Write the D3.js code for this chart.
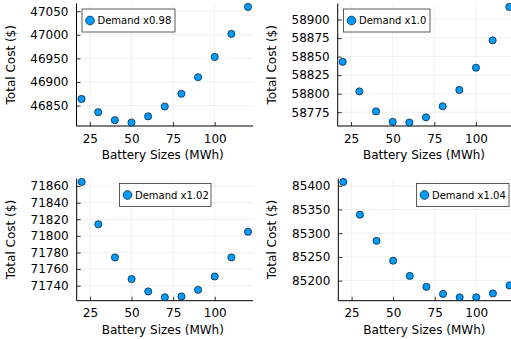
<!DOCTYPE html>
<html>
<head>
<meta charset="utf-8">
<script src="https://cdn.jsdelivr.net/npm/d3@7"></script>
<style>
  body { margin: 0; background: #fff; }
  svg { display: block; font-family: "DejaVu Sans", sans-serif; }
</style>
</head>
<body>
<script>
const batterySizes = [20, 30, 40, 50, 60, 70, 80, 90, 100, 110, 120];

const cost098 = [46864, 46836, 46819, 46814, 46827, 46848, 46875, 46910, 46953, 47002, 47059];
const cost100 = [58843, 58803, 58776, 58762, 58761, 58768, 58783, 58805, 58835, 58872, 58917];
const cost102 = [71865, 71814, 71774, 71748, 71733, 71726, 71727, 71735, 71751, 71774, 71805];
const cost104 = [85408, 85339, 85284, 85242, 85210, 85187, 85172, 85165, 85165, 85173, 85190];

const xTicks = [25, 50, 75, 100];
const yTicks098 = [46850, 46900, 46950, 47000, 47050];
const yTicks100 = [58775, 58800, 58825, 58850, 58875, 58900];
const yTicks102 = [71740, 71760, 71780, 71800, 71820, 71840, 71860];
const yTicks104 = [85200, 85250, 85300, 85350, 85400];

const labels = ["Demand x0.98", "Demand x1.0", "Demand x1.02", "Demand x1.04"];

const W = 511, H = 339;
const svg = d3.select("body").append("svg").attr("width", W).attr("height", H);

// plot areas + legend boxes
const panels = [
  { ys: cost098, ticks: yTicks098, label: labels[0], box: [76.5, 253, 3.5, 126], leg: [82, 9, 93] },
  { ys: cost100, ticks: yTicks100, label: labels[1], box: [337.7, 514.3, 3.5, 126], leg: [343.5, 9, 86.5] },
  { ys: cost102, ticks: yTicks102, label: labels[2], box: [76.7, 253, 178.5, 300.7], leg: [119.5, 183.5, 91.5] },
  { ys: cost104, ticks: yTicks104, label: labels[3], box: [338.3, 514.5, 178.5, 300.7], leg: [416.5, 183.5, 92.5] },
];

const widen = (lo, hi) => {
  const pad = (hi - lo) * 0.03;
  return [lo - pad, hi + pad];
};

const clipId = (i) => `clip${i}`;

panels.forEach((p, i) => {
  const [x0, x1, y0, y1] = p.box;
  const data = batterySizes.map((x, k) => ({ x, y: p.ys[k] }));

  const x = d3.scaleLinear().domain(widen(d3.min(batterySizes), d3.max(batterySizes))).range([x0, x1]);
  const y = d3.scaleLinear().domain(widen(d3.min(p.ys), d3.max(p.ys))).range([y1, y0]);

  const g = svg.append("g");

  // grid
  g.selectAll(".vg").data(xTicks).join("line")
    .attr("x1", (d) => x(d)).attr("x2", (d) => x(d))
    .attr("y1", y0).attr("y2", y1)
    .attr("stroke", "#000").attr("stroke-opacity", 0.1).attr("stroke-width", 0.6);
  g.selectAll(".hg").data(p.ticks).join("line")
    .attr("x1", x0).attr("x2", x1)
    .attr("y1", (d) => y(d)).attr("y2", (d) => y(d))
    .attr("stroke", "#000").attr("stroke-opacity", 0.1).attr("stroke-width", 0.6);

  // axes (ticks pointing inward, like GR)
  const ax = g.append("g").attr("transform", `translate(0,${y1})`)
    .call(d3.axisBottom(x).tickValues(xTicks).tickSizeInner(-4).tickSizeOuter(0).tickPadding(8));
  const ay = g.append("g").attr("transform", `translate(${x0},0)`)
    .call(d3.axisLeft(y).tickValues(p.ticks).tickFormat(d3.format("d")).tickSizeInner(-4).tickSizeOuter(0).tickPadding(8));

  [ax, ay].forEach((a) => {
    a.select(".domain").remove();
    a.selectAll("text").attr("font-size", 12).attr("fill", "#000").attr("font-family", "DejaVu Sans");
    a.selectAll("line").attr("stroke", "#000").attr("stroke-width", 0.8);
  });
  ax.selectAll("text").attr("dy", "0.71em");

  g.append("line").attr("x1", x0).attr("x2", x1).attr("y1", y1).attr("y2", y1)
    .attr("stroke", "#000").attr("stroke-width", 1);
  g.append("line").attr("x1", x0).attr("x2", x0).attr("y1", y0).attr("y2", y1)
    .attr("stroke", "#000").attr("stroke-width", 1);

  // axis titles
  g.append("text")
    .attr("x", (x0 + x1) / 2 - 2).attr("y", y1 + 33)
    .attr("text-anchor", "middle").attr("font-size", 12)
    .text("Battery Sizes (MWh)");
  g.append("text")
    .attr("transform", `translate(${x0 - 62},${(y0 + y1) / 2}) rotate(-90)`)
    .attr("text-anchor", "middle").attr("font-size", 12)
    .text("Total Cost ($)");

  // points
  g.selectAll("circle.pt").data(data).join("circle")
    .attr("class", "pt")
    .attr("cx", (d) => x(d.x)).attr("cy", (d) => y(d.y))
    .attr("r", 3.6)
    .attr("fill", "#009afa").attr("stroke", "#000").attr("stroke-width", 0.6);

  // legend
  const [lx, ly, lw] = p.leg;
  const lg = g.append("g");
  lg.append("rect").attr("x", lx).attr("y", ly).attr("width", lw).attr("height", 23)
    .attr("fill", "#fff").attr("stroke", "#333").attr("stroke-width", 0.8);
  lg.append("circle").attr("cx", lx + 8).attr("cy", ly + 11.5).attr("r", 4.4)
    .attr("fill", "#009afa").attr("stroke", "#000").attr("stroke-width", 0.6);
  lg.append("text").attr("x", lx + 15.5).attr("y", ly + 11.5).attr("dy", "0.35em")
    .attr("font-size", 10).text(p.label);
});
</script>
</body>
</html>
